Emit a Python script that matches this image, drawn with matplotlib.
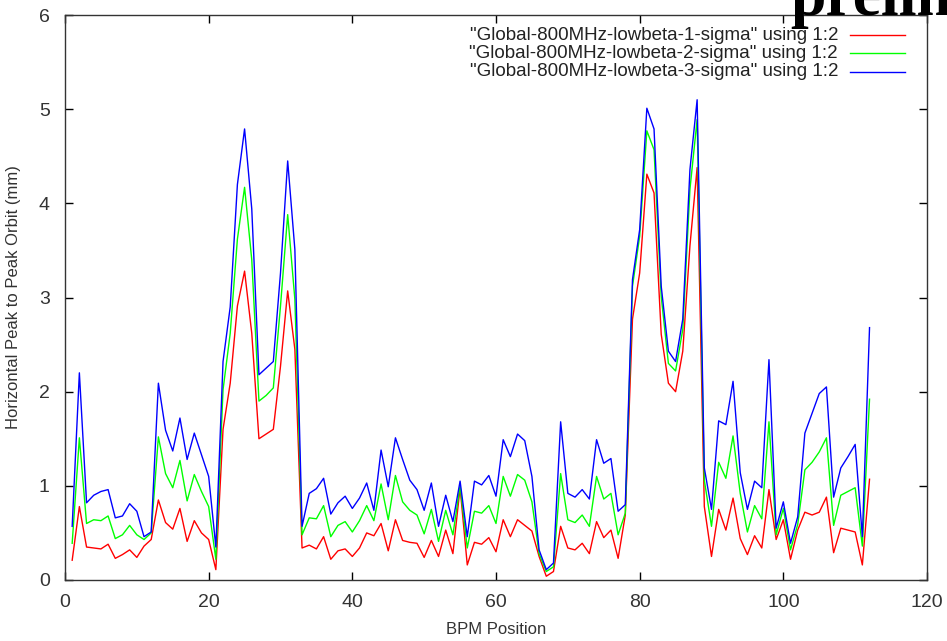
import numpy as np
import matplotlib
matplotlib.use("Agg")
import matplotlib.pyplot as plt
from matplotlib.lines import Line2D

# BPM index 1..112
bpm = list(range(1, 113))

sigma1 = [0.21, 0.78, 0.35, 0.34, 0.33, 0.38, 0.23, 0.27, 0.32, 0.24,
          0.36, 0.43, 0.85, 0.61, 0.54, 0.76, 0.41, 0.63, 0.50, 0.43,
          0.11, 1.60, 2.09, 2.91, 3.28, 2.62, 1.50, 1.55, 1.60, 2.27,
          3.07, 2.45, 0.34, 0.37, 0.33, 0.46, 0.22, 0.31, 0.33, 0.25,
          0.34, 0.50, 0.47, 0.60, 0.31, 0.64, 0.42, 0.40, 0.39, 0.24,
          0.42, 0.25, 0.53, 0.28, 0.98, 0.16, 0.40, 0.38, 0.45, 0.30,
          0.64, 0.46, 0.64, 0.58, 0.52, 0.25, 0.04, 0.09, 0.57, 0.34,
          0.32, 0.39, 0.28, 0.62, 0.45, 0.53, 0.23, 0.69, 2.77, 3.26,
          4.31, 4.11, 2.61, 2.09, 2.00, 2.43, 3.55, 4.38, 0.78, 0.25,
          0.75, 0.53, 0.87, 0.44, 0.27, 0.47, 0.34, 0.96, 0.43, 0.64,
          0.22, 0.53, 0.72, 0.69, 0.72, 0.88, 0.29, 0.55, 0.53, 0.51,
          0.16, 1.07]

sigma2 = [0.39, 1.51, 0.60, 0.64, 0.63, 0.68, 0.44, 0.48, 0.58, 0.48,
          0.43, 0.50, 1.52, 1.13, 0.98, 1.27, 0.84, 1.12, 0.94, 0.78,
          0.22, 2.02, 2.62, 3.62, 4.17, 3.40, 1.90, 1.96, 2.04, 2.91,
          3.88, 2.98, 0.48, 0.66, 0.65, 0.79, 0.46, 0.58, 0.62, 0.51,
          0.63, 0.79, 0.63, 1.02, 0.64, 1.11, 0.83, 0.74, 0.69, 0.49,
          0.75, 0.41, 0.74, 0.48, 1.00, 0.34, 0.73, 0.71, 0.79, 0.60,
          1.10, 0.89, 1.12, 1.06, 0.83, 0.28, 0.09, 0.14, 1.13, 0.64,
          0.61, 0.69, 0.57, 1.10, 0.86, 0.92, 0.48, 0.71, 3.12, 3.65,
          4.77, 4.57, 3.01, 2.30, 2.22, 2.66, 4.15, 4.89, 1.06, 0.57,
          1.25, 1.08, 1.53, 0.92, 0.51, 0.79, 0.65, 1.68, 0.48, 0.76,
          0.32, 0.59, 1.17, 1.25, 1.36, 1.51, 0.58, 0.90, 0.94, 0.98,
          0.36, 1.92]

sigma3 = [0.57, 2.20, 0.82, 0.90, 0.94, 0.96, 0.66, 0.68, 0.81, 0.73,
          0.46, 0.51, 2.09, 1.59, 1.37, 1.72, 1.28, 1.56, 1.33, 1.10,
          0.35, 2.32, 2.90, 4.20, 4.79, 3.94, 2.18, 2.25, 2.32, 3.26,
          4.45, 3.51, 0.57, 0.92, 0.97, 1.08, 0.70, 0.82, 0.89, 0.76,
          0.87, 1.03, 0.74, 1.38, 0.99, 1.51, 1.28, 1.06, 0.96, 0.74,
          1.03, 0.57, 0.90, 0.62, 1.05, 0.46, 1.05, 1.01, 1.11, 0.89,
          1.49, 1.31, 1.55, 1.48, 1.10, 0.32, 0.11, 0.18, 1.68, 0.92,
          0.88, 0.96, 0.86, 1.49, 1.24, 1.29, 0.73, 0.80, 3.19, 3.72,
          5.01, 4.79, 3.12, 2.43, 2.32, 2.77, 4.36, 5.10, 1.19, 0.75,
          1.69, 1.65, 2.11, 1.14, 0.75, 1.05, 0.98, 2.34, 0.55, 0.83,
          0.39, 0.67, 1.56, 1.77, 1.98, 2.05, 0.88, 1.19, 1.31, 1.44,
          0.46, 2.68]

labels = ['"Global-800MHz-lowbeta-1-sigma" using 1:2',
          '"Global-800MHz-lowbeta-2-sigma" using 1:2',
          '"Global-800MHz-lowbeta-3-sigma" using 1:2']
colors = ["#ff0000", "#00ff00", "#0000ff"]

plt.rcParams['font.family'] = ['Liberation Sans', 'DejaVu Sans']

W, H = 947, 641
fig = plt.figure(figsize=(W / 100, H / 100), dpi=100)
ax = fig.add_axes([65 / W, 1 - 580 / H, (927 - 65) / W, (580 - 15) / H])

for ys, c in zip([sigma1, sigma2, sigma3], colors):
    ax.plot(bpm, ys, color=c, linewidth=1.0)

ax.set_xlim(0, 120)
ax.set_ylim(0, 6)
ax.set_xticks(np.arange(0, 121, 20))
ax.set_yticks(np.arange(0, 7, 1))
ax.tick_params(direction='in', length=6, width=1, top=True, right=True,
               labelsize=14, labelcolor='#333333')
ax.tick_params(axis='x', pad=10)
ax.tick_params(axis='y', pad=11)
for s in ax.spines.values():
    s.set_color('#333333')
    s.set_linewidth(1.0)

ax.set_xlabel("BPM Position", fontsize=12, color='#333333', labelpad=8)
ax.set_ylabel("Horizontal Peak to Peak Orbit (mm)", fontsize=12,
              color='#333333', labelpad=13)

# legend drawn gnuplot-style: right-aligned text, sample line on the right
for i, (lab, c) in enumerate(zip(labels, colors)):
    yc = 1 - (35 + 18.3 * i) / H
    fig.text(838 / W, yc, lab, ha='right', va='center', fontsize=13.5,
             color='#222222')
    fig.add_artist(Line2D([850 / W, 905 / W], [yc, yc], color=c,
                          linewidth=1.0, transform=fig.transFigure))

fig.text(790 / W, 1 - 15 / H, "preliminary", family='Liberation Serif',
         fontweight='bold', fontsize=46, ha='left', va='baseline',
         color='black')

fig.savefig("out.png", dpi=100)
